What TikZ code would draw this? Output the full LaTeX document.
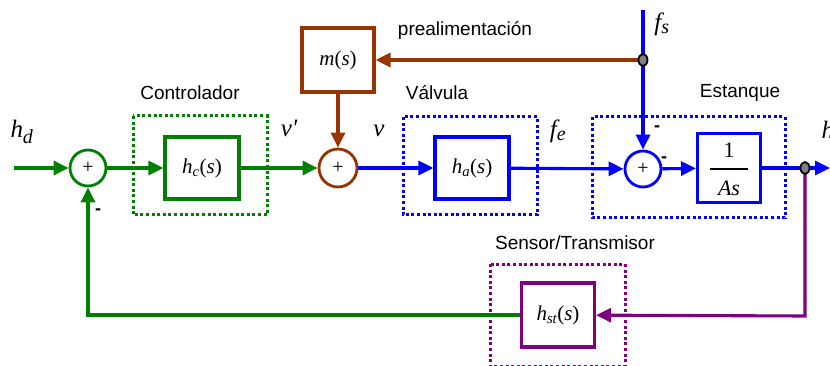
\documentclass[tikz,border=0pt]{standalone}
\usepackage{fontspec}
\setmainfont{Liberation Serif}
\setsansfont{Liberation Sans}
\usetikzlibrary{arrows.meta,shapes.geometric}
\definecolor{gC}{RGB}{0,128,0}
\definecolor{bC}{RGB}{0,0,255}
\definecolor{rC}{RGB}{153,51,0}
\definecolor{pC}{RGB}{128,0,128}
\begin{document}
\begin{tikzpicture}[x=1pt,y=-1pt,
  ln/.style={line width=3.1pt},
  arr/.style={ln,-{Triangle[length=15pt,width=14pt]}},
  blk/.style={line width=3.1pt,fill=white,minimum width=74pt,minimum height=62pt,inner sep=0pt,text=black,font=\fontsize{21}{24}\selectfont\itshape},
  sumc/.style={circle,line width=2.8pt,fill=white,minimum size=36pt,inner sep=0pt,text=black,font=\fontsize{20}{20}\selectfont},
  grp/.style={line width=3pt,dash pattern=on 3pt off 2.6pt},
  lbl/.style={font=\sffamily\fontsize{19}{22}\selectfont},
  var/.style={font=\fontsize{25}{28}\selectfont\itshape},
  jn/.style={ellipse,draw=black,fill=gray,line width=1.8pt,minimum width=9pt,minimum height=12pt,inner sep=0pt},
  mns/.style={font=\sffamily\bfseries\fontsize{18}{18}\selectfont}]
\useasboundingbox (0,0) rectangle (830,366);

% group boxes
\draw[grp,draw=gC] (133,116) rectangle (267,215);
\draw[grp,draw=bC] (403,117) rectangle (537,215);
\draw[grp,draw=bC] (592,117) rectangle (785,218);
\draw[grp,draw=pC] (490,264) rectangle (625,366);

% group labels
\node[lbl] (lc) at (190,93) {Controlador};
\node[lbl] (lv) at (437,93) {Válvula};
\node[lbl] (le) at (740,93) {Estanque};
\node[lbl] (ls) at (575,243) {Sensor/Transmisor};
\node[lbl] (lp) at (465,30) {prealimentación};

% blocks
\node[blk,draw=gC] (hc) at (202,168) {h\textsubscript{c}\upshape(\itshape s\upshape)};
\node[blk,draw=rC,minimum width=72pt,minimum height=64pt] (m) at (338,60) {m\upshape(\itshape s\upshape)};
\node[blk,draw=bC] (ha) at (472,168) {h\textsubscript{a}\upshape(\itshape s\upshape)};
\node[blk,draw=bC,minimum width=63pt,minimum height=69pt] (tk) at (729,168) {};
\node[text=black,font=\fontsize{22}{24}\selectfont] (one) at (729,150) {1};
\node[text=black,font=\fontsize{22}{24}\selectfont\itshape] (as) at (729,188) {As};
\draw[line width=2.8pt] (710,169) -- (748,169);
\node[blk,draw=pC,minimum width=73pt,minimum height=64pt] (hst) at (558,315) {h\textsubscript{st}\upshape(\itshape s\upshape)};

% summing junctions
\node[sumc,draw=gC] (s1) at (88,168) {+};
\node[sumc,draw=rC,minimum size=38pt] (s2) at (338,168) {+};
\node[sumc,draw=bC] (s3) at (643,169) {+};

% coordinates
\coordinate (in) at (14,168);
\coordinate (fs) at (643,10);
\coordinate (out) at (830,168);
\coordinate (j1p) at (643,60);
\coordinate (j2p) at (805,168);
\coordinate (c1) at (805,316);

% connectors
\draw[arr,gC] (in) -- (s1);
\draw[arr,gC] (s1) -- (hc);
\draw[arr,gC] (hc) -- (s2);
\draw[arr,rC] (m) -- (s2);
\draw[arr,bC] (s2) -- (ha);
\draw[arr,bC] (ha) -- (s3);
\draw[arr,bC] (fs) -- (s3);
\draw[arr,rC] (j1p) -- (m);
\draw[arr,bC] (s3) -- (tk);
\draw[arr,bC] (tk) -- (out);
\draw[arr,pC] (j2p) -- (c1) -- (hst);
\draw[arr,gC] (hst) -| (s1);

\node[jn] (j1) at (j1p) {};
\node[jn] (j2) at (j2p) {};

% signal labels
\node[var] (lhd) at (22,132) {h\textsubscript{\fontsize{20}{20}\selectfont d}};
\node[var] (lvp) at (289,128) {v\textquotesingle};
\node[var] (lvv) at (379,131) {v};
\node[var] (lfe) at (558,131) {f\textsubscript{\fontsize{20}{20}\selectfont e}};
\node[var] (lfs) at (662,24) {f\textsubscript{\fontsize{20}{20}\selectfont s}};
\node[var,anchor=west] (lh) at (818,130) {h};

% signs
\node[mns] (m1) at (98,212) {-};
\node[mns] (m2) at (657,129) {-};
\node[mns] (m3) at (664,160) {-};
\end{tikzpicture}
\end{document}
